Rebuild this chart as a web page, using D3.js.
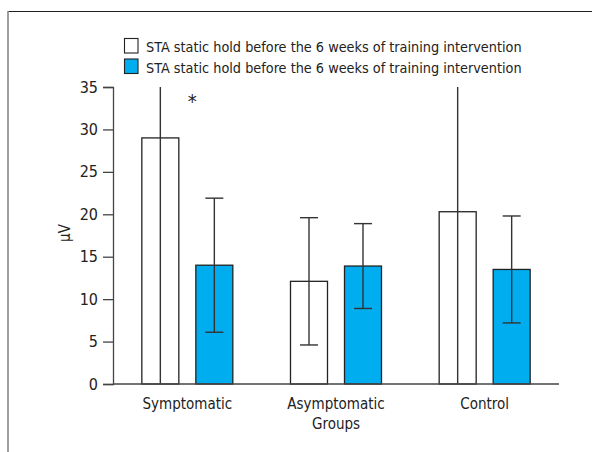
<!DOCTYPE html>
<html>
<head>
<meta charset="utf-8">
<script src="https://cdn.jsdelivr.net/npm/d3@7"></script>
<style>
  html, body { margin: 0; padding: 0; background: #fff; }
  svg { display: block; }
  text { font-family: "DejaVu Sans Condensed", "Liberation Sans Narrow", sans-serif; fill: #222; }
</style>
</head>
<body>
<svg id="chart" width="592" height="452"></svg>
<script>
const categories = ["Symptomatic", "Asymptomatic", "Control"];
const categoryLabels = [["Symptomatic"], ["Asymptomatic", "Groups"], ["Control"]];
const seriesNames = ["STA static hold before the 6 weeks of training intervention",
                     "STA static hold before the 6 weeks of training intervention"];
const seriesKeys = ["before", "after"];
const beforeMeans = [29.0, 12.1, 20.3];
const beforeSD    = [30.0, 7.5, 21.0];
const afterMeans  = [14.0, 13.9, 13.5];
const afterSD     = [7.9, 5.0, 6.3];
const yTicks = [0, 5, 10, 15, 20, 25, 30, 35];
const yLabel = "µV";
const significance = [{ category: "Symptomatic", text: "*" }];

const colors = { before: "#ffffff", after: "#00aeef" };

const svg = d3.select("#chart");

// shrink a text's font size so that its width matches a target
function fitWidth(sel, target, maxSize) {
  sel.each(function() {
    const w = this.getComputedTextLength();
    if (w > 0) {
      const cur = parseFloat(d3.select(this).style("font-size"));
      d3.select(this).style("font-size", Math.min(maxSize, cur * target / w) + "px");
    }
  });
}

// frame
svg.append("line").attr("x1", 8).attr("x2", 592).attr("y1", 11.5).attr("y2", 11.5)
  .attr("stroke", "#222").attr("stroke-width", 1.2);
svg.append("line").attr("x1", 8).attr("x2", 8).attr("y1", 11).attr("y2", 452)
  .attr("stroke", "#888").attr("stroke-width", 1.6);

const x0 = d3.scaleBand().domain(categories).range([113, 559]).padding(0);
const y = d3.scaleLinear().domain([0, 35]).range([384, 87]);

const data = categories.map((c, i) => ({
  category: c,
  values: [
    { key: "before", mean: beforeMeans[i], sd: beforeSD[i] },
    { key: "after", mean: afterMeans[i], sd: afterSD[i] }
  ]
}));

const g = svg.append("g");
const groups = g.selectAll("g.grp").data(data).join("g").attr("class", "grp");

groups.each(function(d) {
  const cx = x0(d.category) + x0.bandwidth() / 2;
  const x1 = d3.scaleBand().domain(seriesKeys).range([cx - 45.5, cx + 45.5]).paddingInner(17 / 54);
  const sel = d3.select(this);
  sel.selectAll("rect").data(d.values).join("rect")
    .attr("x", v => x1(v.key))
    .attr("width", x1.bandwidth())
    .attr("y", v => y(v.mean))
    .attr("height", v => y(0) - y(v.mean))
    .attr("fill", v => colors[v.key])
    .attr("stroke", "#222")
    .attr("stroke-width", 1.3);
  d.values.forEach(v => {
    const bx = x1(v.key) + x1.bandwidth() / 2;
    const hiRaw = v.mean + v.sd, loRaw = v.mean - v.sd;
    const hi = Math.min(hiRaw, 35), lo = Math.max(loRaw, 0);
    sel.append("line").attr("x1", bx).attr("x2", bx)
      .attr("y1", y(hi)).attr("y2", y(lo))
      .attr("stroke", "#333").attr("stroke-width", 1.4);
    if (hiRaw <= 35) sel.append("line").attr("x1", bx - 9).attr("x2", bx + 9)
      .attr("y1", y(hi)).attr("y2", y(hi)).attr("stroke", "#333").attr("stroke-width", 1.4);
    if (loRaw >= 0) sel.append("line").attr("x1", bx - 9).attr("x2", bx + 9)
      .attr("y1", y(lo)).attr("y2", y(lo)).attr("stroke", "#333").attr("stroke-width", 1.4);
  });
});

// axes
const yAxis = d3.axisLeft(y).tickValues(yTicks).tickSize(10).tickPadding(5).tickFormat(d3.format("d"));
const ya = svg.append("g").attr("transform", "translate(113,0)").call(yAxis);
ya.select(".domain").attr("stroke", "#444").attr("stroke-width", 1.3);
ya.selectAll(".tick line").attr("stroke", "#444").attr("stroke-width", 1.3);
ya.selectAll(".tick text").style("font-size", "16px").attr("fill", "#222")
  .style("font-family", "'DejaVu Sans Condensed', sans-serif");

svg.append("line").attr("x1", 113).attr("x2", 559).attr("y1", y(0)).attr("y2", y(0))
  .attr("stroke", "#444").attr("stroke-width", 1.3);

// x labels
categories.forEach((c, i) => {
  const cx = x0(c) + x0.bandwidth() / 2;
  categoryLabels[i].forEach((t, j) => {
    svg.append("text").attr("x", cx).attr("y", 409 + j * 19.5)
      .attr("text-anchor", "middle").style("font-size", "15px").text(t);
  });
});

// y label
svg.append("text").attr("transform", "translate(70,233) rotate(-90)")
  .attr("text-anchor", "middle").style("font-size", "15px").text(yLabel);

// significance
significance.forEach(s => {
  const cx = x0(s.category) + x0.bandwidth() / 2 + 5;
  svg.append("text").attr("x", cx).attr("y", 108).attr("text-anchor", "middle")
    .style("font-size", "20px").text(s.text);
});

// legend
const leg = svg.append("g");
seriesKeys.forEach((k, i) => {
  const yy = 38 + i * 20.5;
  leg.append("rect").attr("x", 124.5).attr("y", yy + 0.5).attr("width", 13.5).attr("height", 14.5)
    .attr("fill", colors[k]).attr("stroke", "#222").attr("stroke-width", 1.1);
  const t = leg.append("text").attr("x", 146).attr("y", yy + 14)
    .style("font-size", "17px")
    .text(seriesNames[i]);
  fitWidth(t, 376, 17);
});
</script>
</body>
</html>
